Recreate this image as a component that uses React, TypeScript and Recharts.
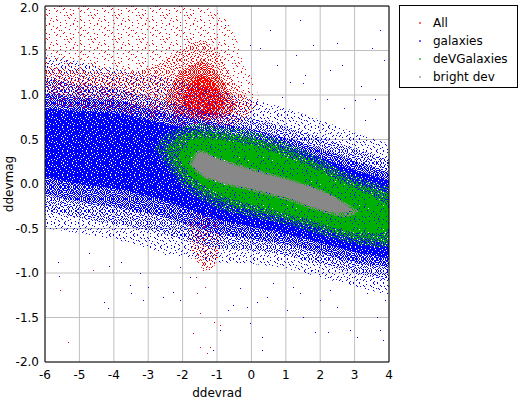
import {
  Area,
  CartesianGrid,
  ComposedChart,
  ReferenceArea,
  Scatter,
  XAxis,
  YAxis,
} from "recharts";

const FONT = "'DejaVu Sans', Verdana, sans-serif";

const X_TICKS = [-6, -5, -4, -3, -2, -1, 0, 1, 2, 3, 4];
const Y_TICKS = [-2, -1.5, -1, -0.5, 0, 0.5, 1, 1.5, 2];

const RED = "#ff0000";
const BLUE = "#0000ff";
const GREEN = "#00b000";
const GRAY = "#888888";

// legend entries, in plot order
const SERIES = [
  { name: "All", color: RED },
  { name: "galaxies", color: BLUE },
  { name: "deVGalaxies", color: GREEN },
  { name: "bright dev", color: GRAY },
];

// density bands: [ddevrad, low ddevmag, high ddevmag]
type Band = [number, number, number][];

const RED_HAZE: Band = [
  [-6, 0.95, 2.0],
  [-4, 0.9, 2.0],
  [-2, 0.7, 2.0],
  [-1, 0.65, 1.95],
  [-0.3, 0.7, 1.5],
  [0.2, 0.9, 1.0],
];
const RED_SPARSE: Band = [
  [-6, 0.9, 1.32],
  [-5, 0.85, 1.28],
  [-4, 0.82, 1.25],
  [-3, 0.75, 1.3],
  [-2.5, 0.7, 1.4],
  [-2, 0.66, 1.52],
  [-1.5, 0.64, 1.62],
  [-1, 0.62, 1.5],
  [-0.5, 0.66, 1.15],
  [0, 0.8, 0.92],
];
const RED_MID: Band = [
  [-2.5, 0.92, 0.98],
  [-2.2, 0.78, 1.18],
  [-1.8, 0.73, 1.32],
  [-1.5, 0.72, 1.38],
  [-1.2, 0.72, 1.34],
  [-0.9, 0.74, 1.2],
  [-0.6, 0.8, 1.0],
  [-0.45, 0.88, 0.92],
];
const RED_CORE: Band = [
  [-2.0, 0.92, 0.98],
  [-1.75, 0.8, 1.14],
  [-1.5, 0.77, 1.22],
  [-1.25, 0.77, 1.2],
  [-1.0, 0.8, 1.08],
  [-0.8, 0.9, 0.96],
];
const RED_LOW: Band = [
  [-1.9, -0.4, -0.35],
  [-1.6, -0.88, -0.3],
  [-1.2, -0.98, -0.3],
  [-0.9, -0.72, -0.4],
];

const BLUE_OUTER: Band = [
  [-6, -0.5, 1.45],
  [-4, -0.62, 1.3],
  [-2, -0.82, 1.15],
  [-1, -0.88, 1.05],
  [0, -0.9, 0.95],
  [1, -0.95, 0.85],
  [2, -1.05, 0.72],
  [3, -1.15, 0.58],
  [4, -1.25, 0.45],
];
const BLUE_LIGHT: Band = [
  [-6, -0.3, 1.2],
  [-5, -0.38, 1.12],
  [-4, -0.45, 1.08],
  [-3, -0.52, 0.98],
  [-2, -0.62, 0.88],
  [-1, -0.72, 0.8],
  [0, -0.75, 0.74],
  [1, -0.8, 0.64],
  [2, -0.9, 0.52],
  [3, -1.0, 0.4],
  [4, -1.08, 0.27],
];
const BLUE_MID: Band = [
  [-6, -0.12, 1.02],
  [-5, -0.2, 0.97],
  [-4, -0.26, 0.95],
  [-3, -0.33, 0.85],
  [-2, -0.44, 0.76],
  [-1, -0.56, 0.69],
  [0, -0.62, 0.62],
  [1, -0.68, 0.52],
  [2, -0.78, 0.4],
  [3, -0.88, 0.26],
  [4, -0.94, 0.13],
];
const BLUE_CORE: Band = [
  [-6, 0.08, 0.85],
  [-5, 0.0, 0.82],
  [-4, -0.05, 0.8],
  [-3, -0.14, 0.72],
  [-2, -0.26, 0.64],
  [-1, -0.4, 0.58],
  [0, -0.48, 0.52],
  [1, -0.56, 0.42],
  [2, -0.66, 0.3],
  [3, -0.76, 0.16],
  [4, -0.84, 0.04],
];

const GREEN_OUTER: Band = [
  [-2.8, 0.38, 0.42],
  [-2.5, 0.22, 0.55],
  [-2, -0.02, 0.64],
  [-1.5, -0.17, 0.68],
  [-1, -0.27, 0.65],
  [0, -0.37, 0.59],
  [1, -0.45, 0.47],
  [2, -0.57, 0.29],
  [3, -0.67, 0.09],
  [4, -0.72, -0.03],
];
const GREEN_MID: Band = [
  [-2.5, 0.35, 0.4],
  [-2, 0.08, 0.56],
  [-1.5, -0.08, 0.6],
  [-1, -0.18, 0.58],
  [0, -0.3, 0.52],
  [1, -0.39, 0.4],
  [2, -0.5, 0.22],
  [3, -0.61, 0.02],
  [4, -0.66, -0.1],
];
const GREEN_CORE: Band = [
  [-2.1, 0.3, 0.34],
  [-1.8, 0.1, 0.48],
  [-1.5, 0.02, 0.52],
  [-1, -0.1, 0.5],
  [0, -0.23, 0.44],
  [1, -0.33, 0.31],
  [2, -0.44, 0.14],
  [3, -0.54, -0.05],
  [3.7, -0.55, -0.17],
  [4, -0.5, -0.25],
];

const GRAY_OUTER: Band = [
  [-1.8, 0.22, 0.24],
  [-1.5, 0.1, 0.38],
  [-1, 0.02, 0.3],
  [0, -0.08, 0.18],
  [1, -0.18, 0.07],
  [2, -0.31, -0.06],
  [2.7, -0.37, -0.2],
  [3.1, -0.32, -0.3],
];
const GRAY_CORE: Band = [
  [-1.7, 0.22, 0.24],
  [-1.5, 0.13, 0.35],
  [-1, 0.04, 0.28],
  [0, -0.05, 0.15],
  [1, -0.15, 0.05],
  [2, -0.28, -0.08],
  [2.5, -0.32, -0.17],
  [2.9, -0.3, -0.28],
];

// single stray points outside the clouds
const RED_STRAYS = [
  [-1.58, -1.22], [-1.49, -1.45], [-1.35, -1.16], [-1.2, -1.83], [-1.49, -1.83],
  [-1.7, -1.67], [-1.0, -0.82], [-1.4, -0.97], [-0.91, -1.58], [-4.6, -0.97],
  [-5.56, -1.19], [-5.33, -1.78], [-1.3, -1.9], [-1.1, -1.55], [-1.6, -1.05],
];
const BLUE_STRAYS = [
  [-5.62, -0.88], [-5.59, -1.03], [-4.72, -0.78], [-4.14, -0.92], [-3.79, -0.88],
  [-4.28, -1.33], [-4.17, -1.39], [-3.53, -1.13], [-3.5, -1.22], [-3.24, -1.0],
  [-3.15, -1.3], [-3.0, -1.16], [-2.57, -1.27], [-2.28, -1.21], [-2.08, -1.3],
  [-2.51, -0.79], [-2.08, -0.93], [-1.78, -1.04], [-1.12, -1.87], [-0.91, -1.64],
  [-0.68, -1.42], [-0.53, -1.36], [-0.33, -1.17], [-0.13, -1.38], [-0.04, -1.56],
  [0.16, -1.33], [0.3, -1.72], [0.3, -1.87], [0.45, -1.27], [0.63, -1.11],
  [0.74, -0.89], [1.03, -1.42], [1.21, -1.16], [1.41, -1.22], [1.5, -1.49],
  [1.76, -0.97], [1.85, -1.66], [2.0, -1.3], [2.23, -1.66], [2.29, -1.19],
  [2.49, -1.38], [2.78, -1.04], [2.87, -1.64], [3.07, -1.72], [3.36, -1.22],
  [3.65, -1.49], [3.74, -1.64], [3.83, -1.75], [3.88, -1.3], [3.94, -1.08],
  [-0.04, 1.56], [0.25, 1.53], [1.79, 1.56], [2.49, 1.58], [1.12, 1.15],
  [1.56, 1.22], [0.74, 1.34], [2.29, 1.28], [2.63, 1.34], [1.9, 0.72],
  [1.5, 1.13], [3.5, 1.53], [3.74, 1.73], [3.0, 0.94], [3.3, 0.72],
  [3.85, 1.39], [0.54, 1.73], [1.41, 1.84], [-0.77, 1.79], [2.7, 0.85],
  [3.2, 1.1], [0.9, 0.98], [2.2, 0.95], [1.3, 1.45], [3.6, 0.95],
];

// 12x12 hand-made dither: a cell is inked when its digit < level
const DITHER = [
  "503817264950",
  "182649035718",
  "947150862394",
  "260938417025",
  "815472690381",
  "439061528746",
  "072385914560",
  "658194370289",
  "391627053914",
  "724950186437",
  "106283749052",
  "583716420891",
];

const cell = (q: number, lx: number, ly: number) =>
  Number(
    q === 0 ? DITHER[ly][lx] : q === 1 ? DITHER[lx][ly] : q === 2 ? DITHER[11 - ly][lx] : DITHER[lx][11 - ly],
  );

// 24x24 tile built from four flipped copies of the 12x12 matrix;
// fractional levels use a shifted copy to pick part of the next digit
function ditherPath(level: number): string {
  const whole = Math.floor(level);
  const frac = level - whole;
  let d = "";
  for (let y = 0; y < 24; y++) {
    for (let x = 0; x < 24; x++) {
      const q = (y >= 12 ? 2 : 0) + (x >= 12 ? 1 : 0);
      const lx = x % 12;
      const ly = y % 12;
      const v = cell(q, lx, ly);
      const w = cell(3 - q, (lx + 7) % 12, (ly + 5) % 12);
      if (v < whole || (v === whole && w < frac * 10)) d += `M${x} ${y}h1v1h-1z`;
    }
  }
  return d;
}

const PATTERNS = [
  { color: RED, key: "red", shift: [0, 0] },
  { color: BLUE, key: "blue", shift: [5, 7] },
  { color: GREEN, key: "green", shift: [9, 3] },
  { color: GRAY, key: "gray", shift: [2, 10] },
];

type Layer = { band: Band; key: string; color: string; level: number };

const LAYERS: Layer[] = [
  { band: RED_HAZE, key: "red", color: RED, level: 0.5 },
  { band: RED_SPARSE, key: "red", color: RED, level: 2 },
  { band: RED_LOW, key: "red", color: RED, level: 1.5 },
  { band: RED_MID, key: "red", color: RED, level: 5 },
  { band: RED_CORE, key: "red", color: RED, level: 8 },
  { band: BLUE_OUTER, key: "blue", color: BLUE, level: 1 },
  { band: BLUE_LIGHT, key: "blue", color: BLUE, level: 3 },
  { band: BLUE_MID, key: "blue", color: BLUE, level: 6 },
  { band: BLUE_CORE, key: "blue", color: BLUE, level: 9 },
  { band: GREEN_OUTER, key: "green", color: GREEN, level: 3 },
  { band: GREEN_MID, key: "green", color: GREEN, level: 6.5 },
  { band: GREEN_CORE, key: "green", color: GREEN, level: 9.5 },
  { band: GRAY_OUTER, key: "gray", color: GRAY, level: 6 },
  { band: GRAY_CORE, key: "gray", color: GRAY, level: 10 },
];

const patternId = (key: string, level: number) => `dot-${key}-${String(level).replace(".", "_")}`;
const fillOf = (l: Layer) => (l.level >= 10 ? l.color : `url(#${patternId(l.key, l.level)})`);

const toRows = (band: Band) => band.map(([x, lo, hi]) => ({ x, r: [lo, hi] }));
const toPts = (pts: number[][]) => pts.map(([x, y]) => ({ x, y }));

function pixelDot(color: string) {
  return (p: { cx?: number; cy?: number }) => (
    <rect
      x={Math.round(p.cx ?? 0)}
      y={Math.round(p.cy ?? 0)}
      width={1}
      height={1}
      fill={color}
      shapeRendering="crispEdges"
    />
  );
}

function YTitle(props: { viewBox?: { x: number; y: number; width: number; height: number } }) {
  const vb = props.viewBox ?? { x: 0, y: 0, width: 0, height: 0 };
  const cx = 9;
  const cy = vb.y + vb.height / 2;
  return (
    <text
      x={cx}
      y={cy}
      transform={`rotate(-90 ${cx} ${cy})`}
      textAnchor="middle"
      dominantBaseline="central"
      fontSize={12}
      fill="#000"
    >
      ddevmag
    </text>
  );
}

function Legend() {
  return (
    <div
      style={{
        position: "absolute",
        left: 399,
        top: 5,
        width: 119,
        height: 83,
        boxSizing: "border-box",
        border: "1px solid #000",
        background: "#fff",
        paddingTop: 8,
        fontFamily: FONT,
        fontSize: 12,
        color: "#000",
      }}
    >
      {SERIES.map((s) => (
        <div key={s.name} style={{ position: "relative", height: 18, lineHeight: "18px" }}>
          <span
            style={{
              position: "absolute",
              left: 19,
              top: 8,
              width: 2,
              height: 2,
              background: s.color,
              opacity: 0.6,
            }}
          />
          <span style={{ position: "absolute", left: 33 }}>{s.name}</span>
        </div>
      ))}
    </div>
  );
}

export default function App() {
  const used = Array.from(new Set(LAYERS.filter((l) => l.level < 10).map((l) => `${l.key}|${l.level}`)));
  return (
    <div
      style={{
        position: "absolute",
        left: 0,
        top: 0,
        width: 521,
        height: 400,
        background: "#fff",
        fontFamily: FONT,
      }}
    >
      <svg width={0} height={0} style={{ position: "absolute" }}>
        <defs>
          {used.map((u) => {
            const [key, lv] = u.split("|");
            const p = PATTERNS.find((pp) => pp.key === key)!;
            const level = Number(lv);
            return (
              <pattern
                key={u}
                id={patternId(key, level)}
                width={24}
                height={24}
                patternUnits="userSpaceOnUse"
                patternTransform={`translate(${p.shift[0]} ${p.shift[1]})`}
              >
                <path d={ditherPath(level)} fill={p.color} shapeRendering="crispEdges" />
              </pattern>
            );
          })}
        </defs>
      </svg>
      <ComposedChart
        width={521}
        height={400}
        margin={{ top: 6, right: 132, bottom: 0, left: 0 }}
        style={{ fontFamily: FONT }}
      >
        <CartesianGrid stroke="#c0c0c0" />
        <XAxis
          type="number"
          dataKey="x"
          domain={[-6, 4]}
          ticks={X_TICKS}
          allowDataOverflow
          height={38}
          tickLine={false}
          axisLine={false}
          tick={{ fontSize: 12, fill: "#000" }}
          label={{ value: "ddevrad", position: "insideBottom", offset: 3, fontSize: 12, fill: "#000" }}
        />
        <YAxis
          type="number"
          dataKey="y"
          domain={[-2, 2]}
          ticks={Y_TICKS}
          allowDataOverflow
          width={45}
          tickLine={false}
          axisLine={false}
          tickMargin={0}
          tickFormatter={(v: number) => v.toFixed(1)}
          tick={{ fontSize: 12, fill: "#000" }}
          label={<YTitle />}
        />
        {LAYERS.map((l, i) => (
          <Area
            key={i}
            data={toRows(l.band)}
            dataKey="r"
            type="monotone"
            stroke="none"
            fill={fillOf(l)}
            fillOpacity={1}
            dot={false}
            activeDot={false}
            isAnimationActive={false}
          />
        ))}
        <Scatter data={toPts(RED_STRAYS)} shape={pixelDot(RED)} isAnimationActive={false} />
        <Scatter data={toPts(BLUE_STRAYS)} shape={pixelDot(BLUE)} isAnimationActive={false} />
        <ReferenceArea
          x1={-6}
          x2={4}
          y1={-2}
          y2={2}
          fill="none"
          stroke="#000"
          strokeWidth={1}
          ifOverflow="visible"
        />
      </ComposedChart>
      <Legend />
    </div>
  );
}
